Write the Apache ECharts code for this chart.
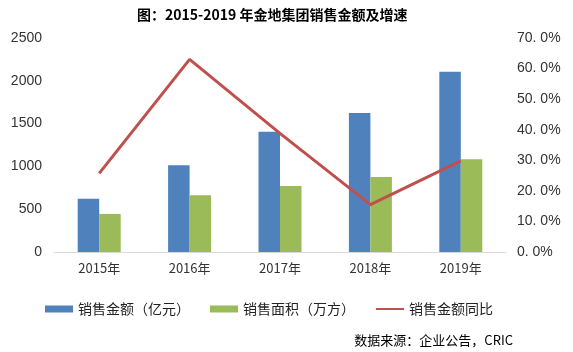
<!DOCTYPE html>
<html>
<head>
<meta charset="utf-8">
<script src="https://cdn.jsdelivr.net/npm/echarts@6/dist/echarts.min.js"></script>
<style>
  html, body { margin: 0; padding: 0; background: #fff; }
  #main { width: 573px; height: 352px; }
</style>
</head>
<body>
<div id="main"></div>
<script>
// 年份与数据
var years = ['2015年', '2016年', '2017年', '2018年', '2019年'];
var salesAmount = [621, 1012, 1405, 1623, 2106];   // 销售金额（亿元）
var salesArea = [445, 662, 771, 876, 1083];         // 销售面积（万方）
var amountYoY = [25.7, 63.0, 38.8, 15.5, 29.8];     // 销售金额同比 %

var font = '"Noto Sans CJK SC", sans-serif';
var numFont = 'Arial, "Liberation Sans", sans-serif';
var myChart = echarts.init(document.getElementById('main'));

var option = {
    backgroundColor: '#ffffff',
    animation: false,
    textStyle: { fontFamily: font },
    title: {
        text: '图：2015-2019 年金地集团销售金额及增速',
        left: 132,
        top: 3,
        textStyle: { fontSize: 14, fontWeight: 'bold', color: '#000', fontFamily: font }
    },
    graphic: [{
        type: 'text',
        right: 60,
        top: 334,
        style: {
            text: '数据来源：企业公告，CRIC',
            fill: '#000',
            font: '13px "Noto Sans CJK SC", sans-serif'
        }
    }],
    legend: {
        left: 40,
        top: 297,
        itemWidth: 28,
        itemHeight: 7,
        itemGap: 20,
        textStyle: { fontSize: 14, color: '#222', fontFamily: font },
        data: [
            { name: '销售金额（亿元）', icon: 'rect' },
            { name: '销售面积（万方）', icon: 'rect' },
            { name: '销售金额同比', itemStyle: { opacity: 0 } }
        ]
    },
    grid: { left: 54, right: 67, top: 38, bottom: 100 },
    xAxis: {
        type: 'category',
        data: years,
        axisLine: { lineStyle: { color: '#d9d9d9', width: 1 } },
        axisTick: { show: false },
        axisLabel: { color: '#333', fontSize: 13, margin: 10, fontFamily: font }
    },
    yAxis: [
        {
            type: 'value',
            min: 0,
            max: 2500,
            interval: 500,
            splitLine: { show: false },
            axisLine: { show: false },
            axisTick: { show: false },
            axisLabel: {
                color: '#333',
                fontSize: 14,
                margin: 12,
                fontFamily: numFont,
                formatter: function (v) { return String(v); }
            }
        },
        {
            type: 'value',
            min: 0,
            max: 70,
            interval: 10,
            splitLine: { show: false },
            axisLine: { show: false },
            axisTick: { show: false },
            axisLabel: {
                color: '#333',
                fontSize: 14,
                margin: 11,
                fontFamily: numFont,
                formatter: function (v) {
                    return v.toFixed(1).replace('.', '. ') + '%';
                }
            }
        }
    ],
    series: [
        {
            name: '销售金额（亿元）',
            type: 'bar',
            data: salesAmount,
            barWidth: 21.5,
            barGap: '0%',
            itemStyle: { color: '#4F81BD' }
        },
        {
            name: '销售面积（万方）',
            type: 'bar',
            data: salesArea,
            barWidth: 21.5,
            itemStyle: { color: '#9BBB59' }
        },
        {
            name: '销售金额同比',
            type: 'line',
            yAxisIndex: 1,
            data: amountYoY,
            symbol: 'none',
            lineStyle: { color: '#C0504D', width: 3 },
            itemStyle: { color: '#C0504D' }
        }
    ]
};

myChart.setOption(option);
</script>
</body>
</html>
